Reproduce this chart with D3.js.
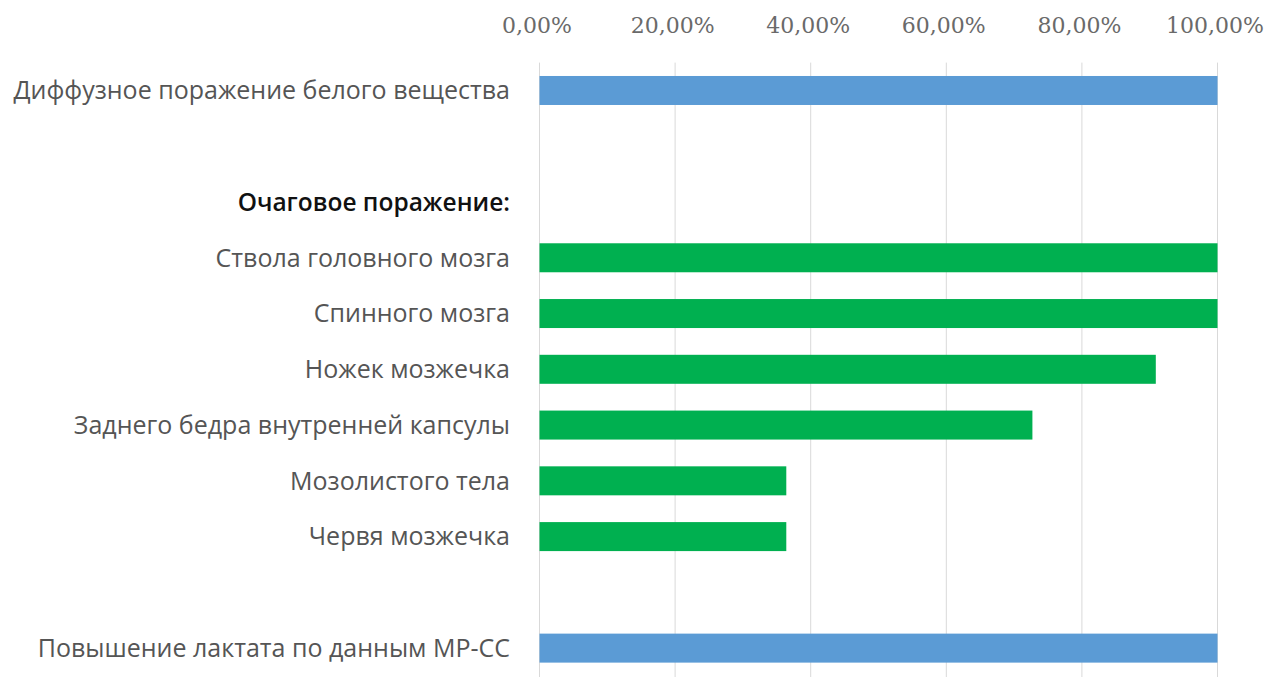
<!DOCTYPE html>
<html>
<head>
<meta charset="utf-8">
<script src="https://cdn.jsdelivr.net/npm/d3@7"></script>
<style>
  html, body { margin: 0; padding: 0; background: #fff; }
  svg { display: block; }
</style>
</head>
<body>
<svg id="chart" width="1288" height="677"></svg>
<script>
// Rows from top to bottom; empty strings are spacer rows.
const categories = [
  "Диффузное поражение белого вещества",
  "",
  "Очаговое поражение:",
  "Ствола головного мозга",
  "Спинного мозга",
  "Ножек мозжечка",
  "Заднего бедра внутренней капсулы",
  "Мозолистого тела",
  "Червя мозжечка",
  "",
  "Повышение лактата по данным МР-СС"
];
// Share of patients, percent (null = no bar)
const values = [100, null, null, 100, 100, 90.9, 72.7, 36.4, 36.4, null, 100];
// Row kind: general findings, section header, focal lesions
const kinds = ["general", "spacer", "header", "focal", "focal", "focal", "focal", "focal", "focal", "spacer", "general"];
const tickValues = [0, 20, 40, 60, 80, 100];

const colors = { general: "#5B9BD5", focal: "#00B050" };

const svg = d3.select("#chart");
const plotLeft = 539.5, plotRight = 1217.5, plotTop = 62.6, plotBottom = 676;

const x = d3.scaleLinear().domain([0, 100]).range([plotLeft, plotRight]);
const y = d3.scaleBand()
  .domain(d3.range(categories.length))
  .range([plotTop, plotBottom])
  .paddingInner(0.48)
  .paddingOuter(0.24);

const ru = d3.formatLocale({ decimal: ",", thousands: " ", grouping: [3], currency: ["", " ₽"] });
const pct = v => ru.format(".2f")(v) + "%";

// Vertical gridlines
svg.append("g")
  .selectAll("line")
  .data(tickValues)
  .join("line")
  .attr("x1", d => x(d)).attr("x2", d => x(d))
  .attr("y1", plotTop).attr("y2", 677)
  .attr("stroke", "#d9d9d9")
  .attr("stroke-width", 1);

// Top axis labels
const axis = svg.append("g")
  .attr("transform", `translate(-3, 33)`)
  .call(d3.axisTop(x).tickValues(tickValues).tickFormat(pct).tickSize(0).tickPadding(0));
axis.select(".domain").remove();
axis.selectAll("text")
  .attr("font-family", "'DejaVu Serif', serif")
  .attr("font-size", 22)
  .attr("fill", "#6a6a6a")
  .attr("dy", 0);

// Bars
const rows = categories.map((c, i) => ({ i, label: c, value: values[i], kind: kinds[i] }));
svg.append("g")
  .selectAll("rect")
  .data(rows.filter(d => d.value != null))
  .join("rect")
  .attr("x", x(0))
  .attr("y", d => y(d.i))
  .attr("width", d => x(d.value) - x(0))
  .attr("height", y.bandwidth())
  .attr("fill", d => colors[d.kind]);

// Category labels
svg.append("g")
  .selectAll("text")
  .data(rows.filter(d => d.label))
  .join("text")
  .attr("x", 510)
  .attr("y", d => y(d.i) + y.bandwidth() / 2)
  .attr("dy", "0.35em")
  .attr("text-anchor", "end")
  .attr("font-family", "'Open Sans', sans-serif")
  .attr("font-size", d => d.kind === "header" ? 24.5 : 25)
  .attr("font-weight", d => d.kind === "header" ? 600 : 400)
  .attr("fill", d => d.kind === "header" ? "#111" : "#555")
  .text(d => d.label);
</script>
</body>
</html>
